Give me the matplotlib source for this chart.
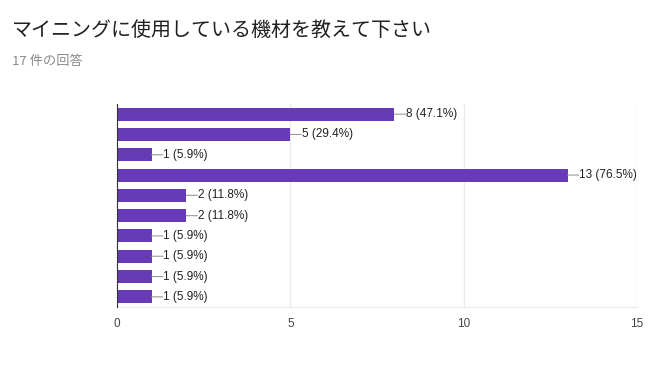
import matplotlib
matplotlib.use("Agg")
import matplotlib.pyplot as plt

plt.rcParams['font.family'] = ['Liberation Sans', 'Noto Sans CJK JP', 'DejaVu Sans']

title = "マイニングに使用している機材を教えて下さい"
subtitle = "17 件の回答"
total = 17
categories = ["", "", "", "", "", "", "", "", "", ""]
counts = [8, 5, 1, 13, 2, 2, 1, 1, 1, 1]
xticks = [0, 5, 10, 15]

fig = plt.figure(figsize=(6.71, 3.69), dpi=100)
fig.patch.set_facecolor("white")
ax = fig.add_axes([117/671, 1-307/369, 520/671, 203/369])

y = list(range(len(counts)))
ax.barh(y, counts, height=0.64, color="#673ab7", zorder=3)
ax.set_ylim(len(counts) - 0.5, -0.5)
ax.set_xlim(0, 15)
ax.set_yticks(y)
ax.set_yticklabels(categories)
ax.tick_params(axis='y', length=0)
ax.set_xticks(xticks)
ax.set_xticklabels([str(t) for t in xticks])
ax.tick_params(axis='x', length=0, pad=8, labelsize=8.5, labelcolor="#444444")
ax.grid(axis='x', color="#ebebeb", linewidth=1, zorder=0)
for s in ["top", "right"]:
    ax.spines[s].set_visible(False)
ax.spines["bottom"].set_color("#ebebeb")
ax.spines["left"].set_color("#333333")
ax.spines["left"].set_zorder(4)

for i, v in enumerate(counts):
    ax.annotate("", xy=(v, i), xytext=(8, 0), textcoords="offset points",
                arrowprops=dict(arrowstyle="-", color="#999999", lw=0.8,
                                shrinkA=0, shrinkB=0))
    ax.annotate(f"{v} ({v/total*100:.1f}%)", xy=(v, i), xytext=(8.3, 0),
                textcoords="offset points", va="center", ha="left",
                fontsize=8.5, color="#222222")

fig.text(12/671, 1-30/369, title, fontsize=14.4, color="#212121",
         va="center", ha="left", family=['Noto Sans CJK JP', 'DejaVu Sans'])
fig.text(12/671, 1-62/369, subtitle, fontsize=9.5, color="#8a8a8a",
         va="center", ha="left", family=['Noto Sans CJK JP', 'DejaVu Sans'])

fig.savefig("out.png", dpi=100, facecolor="white")
